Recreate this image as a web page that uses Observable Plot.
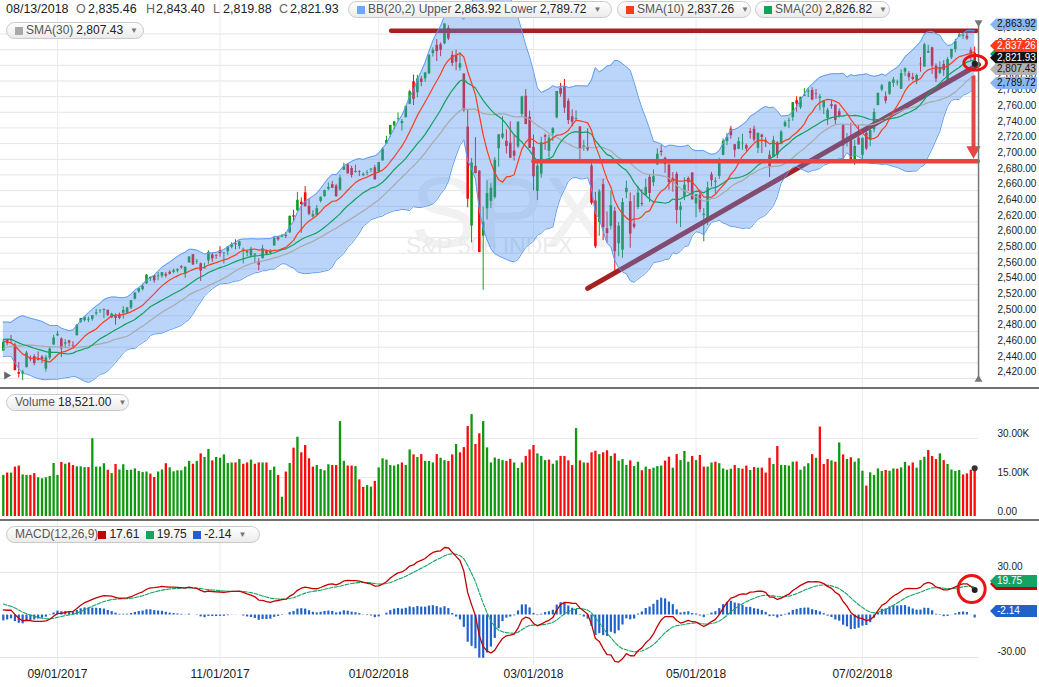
<!DOCTYPE html>
<html><head><meta charset="utf-8">
<script src="https://cdn.jsdelivr.net/npm/d3@7"></script>
<script src="https://cdn.jsdelivr.net/npm/@observablehq/plot@0.6"></script>
<style>
body{margin:0;background:#fff;}
#wrap{position:relative;width:1039px;height:687px;overflow:hidden;background:#fff;font-family:"Liberation Sans",Arial,sans-serif;}
.panel{position:absolute;left:0;}
.sep{position:absolute;left:0;width:1039px;height:2px;background:#707070;}
.hd{position:absolute;font-size:12.5px;line-height:14px;color:#222;white-space:nowrap;}
.lt{color:#666;}
.pill{position:absolute;height:15px;border:1px solid #c9c9c9;border-radius:9px;background:linear-gradient(#ffffff,#ebebeb);font-size:12px;line-height:15px;color:#555;white-space:nowrap;display:flex;align-items:center;padding-left:8px;box-sizing:content-box;}
.sq{display:inline-block;width:8px;height:8px;margin-right:3px;}
.num{color:#222;margin-left:3px;margin-right:3px;}
.dd{color:#777;font-size:8px;margin-left:4px;}
.tag{position:absolute;left:990px;width:47px;height:12px;font:10px "Liberation Sans",Arial,sans-serif;line-height:12px;padding-left:7px;box-sizing:border-box;clip-path:polygon(0 50%,6px 0,100% 0,100% 100%,6px 100%);}
</style></head>
<body><div id="wrap"></div>
<script>
// ---------- DATA ----------
const monthDays = [
 ["2017-08",[14,15,16,17,18,21,22,23,24,25,28,29,30,31]],
 ["2017-09",[1,5,6,7,8,11,12,13,14,15,18,19,20,21,22,25,26,27,28,29]],
 ["2017-10",[2,3,4,5,6,9,10,11,12,13,16,17,18,19,20,23,24,25,26,27,30,31]],
 ["2017-11",[1,2,3,6,7,8,9,10,13,14,15,16,17,20,21,22,24,27,28,29,30]],
 ["2017-12",[1,4,5,6,7,8,11,12,13,14,15,18,19,20,21,22,26,27,28,29]],
 ["2018-01",[2,3,4,5,8,9,10,11,12,16,17,18,19,22,23,24,25,26,29,30,31]],
 ["2018-02",[1,2,5,6,7,8,9,12,13,14,15,16,20,21,22,23,26,27,28]],
 ["2018-03",[1,2,5,6,7,8,9,12,13,14,15,16,19,20,21,22,23,26,27,28,29]],
 ["2018-04",[2,3,4,5,6,9,10,11,12,13,16,17,18,19,20,23,24,25,26,27,30]],
 ["2018-05",[1,2,3,4,7,8,9,10,11,14,15,16,17,18,21,22,23,24,25,29,30,31]],
 ["2018-06",[1,4,5,6,7,8,11,12,13,14,15,18,19,20,21,22,25,26,27,28,29]],
 ["2018-07",[2,3,5,6,9,10,11,12,13,16,17,18,19,20,23,24,25,26,27,30,31]],
 ["2018-08",[1,2,3,6,7,8,9,10,13]]
];
const opens = [
2454.96,2468.66,2468.63,2462.95,2427.64,2425.50,2433.75,2444.88,2447.91,2444.72,2447.35,2431.94,2446.06,2462.65,
2474.42,2470.35,2463.83,2468.06,2462.25,2474.52,2491.94,2493.89,2494.56,2495.67,2502.51,2506.29,2506.84,2507.16,2497.26,2499.39,2501.04,2503.30,2503.41,2509.96,
2521.20,2530.34,2533.48,2540.86,2547.44,2551.39,2549.99,2550.62,2552.88,2555.66,2555.57,2557.17,2562.87,2553.39,2567.56,2578.08,2568.66,2566.52,2560.08,2570.26,2577.75,2575.99,
2583.21,2579.46,2581.93,2587.47,2592.11,2588.71,2584.00,2580.18,2576.53,2577.75,2569.45,2572.95,2582.94,2579.49,2589.17,2600.31,2600.42,2602.66,2605.94,2627.82,2633.93,
2645.10,2657.19,2639.78,2626.24,2628.38,2646.21,2652.19,2661.73,2667.59,2665.87,2660.63,2685.92,2692.71,2688.18,2683.02,2684.22,2679.09,2682.10,2686.10,2689.15,
2683.73,2697.85,2719.31,2731.33,2742.67,2751.15,2745.55,2752.97,2770.18,2798.96,2784.99,2802.40,2802.60,2809.16,2835.05,2845.42,2846.24,2847.48,2867.23,2832.74,2832.41,
2816.45,2808.92,2741.06,2614.78,2690.95,2685.01,2601.78,2636.75,2646.27,2651.21,2713.46,2727.14,2722.99,2720.53,2710.42,2715.80,2757.37,2780.45,2753.78,
2715.22,2658.89,2681.06,2730.18,2710.18,2732.75,2752.91,2790.54,2792.31,2774.06,2754.27,2750.57,2741.38,2715.05,2714.99,2691.36,2646.71,2619.35,2667.57,2611.30,2614.41,
2633.45,2592.17,2584.04,2657.36,2645.82,2617.18,2638.41,2643.48,2653.83,2676.90,2670.10,2692.74,2710.11,2701.16,2692.56,2675.40,2680.80,2634.92,2651.65,2675.47,2682.51,
2642.96,2654.24,2628.08,2621.45,2680.34,2670.26,2678.12,2705.02,2722.70,2738.47,2718.59,2712.62,2719.71,2717.35,2735.39,2738.34,2713.98,2730.94,2723.60,2705.11,2702.43,2720.98,
2718.70,2741.67,2748.46,2753.25,2774.84,2765.84,2780.18,2785.60,2787.94,2783.21,2777.78,2765.79,2752.01,2769.73,2769.28,2760.79,2742.94,2722.12,2728.45,2698.69,2727.13,
2704.95,2733.27,2724.19,2737.68,2768.51,2788.56,2779.82,2783.14,2796.93,2797.36,2789.34,2811.35,2809.37,2804.55,2799.17,2820.68,2817.73,2835.49,2842.35,2819.00,2809.73,
2821.17,2800.48,2829.62,2840.29,2855.92,2856.79,2857.19,2838.90,2835.46];
const highs = [
2468.22,2468.90,2474.93,2465.02,2440.27,2430.58,2454.77,2448.91,2450.39,2453.96,2449.12,2449.19,2460.31,2475.01,
2480.38,2471.97,2469.64,2468.62,2467.11,2488.95,2496.77,2498.37,2498.43,2500.23,2508.32,2507.84,2508.85,2507.16,2503.47,2502.54,2503.51,2511.75,2510.81,2519.44,
2529.23,2535.13,2540.53,2552.51,2549.41,2551.82,2555.23,2555.24,2555.33,2557.65,2559.47,2559.71,2564.11,2562.36,2575.44,2578.29,2572.18,2567.40,2567.07,2582.98,2580.03,2578.29,
2588.40,2581.11,2588.42,2593.38,2597.02,2595.47,2586.50,2583.81,2587.66,2579.66,2572.84,2590.09,2583.96,2584.64,2601.19,2600.94,2604.21,2606.41,2627.69,2634.89,2657.74,
2650.62,2665.19,2648.72,2634.41,2640.99,2651.65,2660.33,2669.72,2671.88,2668.09,2679.63,2694.97,2694.44,2691.01,2692.64,2685.35,2682.74,2685.64,2687.66,2692.12,
2695.89,2714.37,2729.29,2743.45,2748.51,2759.14,2750.80,2767.56,2787.85,2807.54,2807.04,2805.83,2810.33,2833.03,2842.24,2852.97,2848.56,2872.87,2870.62,2837.75,2839.26,
2835.96,2808.92,2763.39,2701.04,2727.67,2685.27,2638.67,2672.61,2668.84,2702.10,2731.51,2754.42,2737.60,2747.75,2731.26,2747.76,2780.64,2789.15,2761.52,
2730.89,2696.25,2728.09,2732.08,2730.60,2740.45,2786.57,2796.98,2801.90,2777.11,2763.03,2761.85,2741.38,2724.22,2739.14,2695.68,2657.67,2661.36,2674.78,2632.65,2659.07,
2638.30,2619.14,2649.86,2672.08,2656.88,2653.55,2665.45,2661.04,2674.72,2680.26,2686.49,2713.34,2717.49,2702.84,2693.94,2682.86,2683.55,2645.30,2676.48,2677.35,2682.87,
2655.27,2660.87,2637.14,2670.93,2683.35,2676.34,2701.27,2726.11,2732.86,2742.10,2718.59,2727.76,2731.96,2719.50,2739.19,2742.24,2733.33,2731.97,2727.36,2710.67,2729.34,2722.50,
2736.93,2749.16,2752.61,2772.39,2779.90,2779.39,2790.21,2789.80,2791.47,2789.06,2782.81,2774.99,2765.05,2774.86,2769.28,2764.17,2742.94,2732.91,2746.09,2724.34,2743.26,
2727.26,2736.58,2737.83,2764.41,2784.65,2795.58,2785.91,2799.22,2804.53,2801.19,2814.19,2816.76,2812.05,2809.70,2808.61,2829.99,2848.03,2845.57,2843.17,2821.74,2824.46,
2825.83,2829.91,2840.38,2853.29,2863.43,2862.44,2862.48,2842.20,2843.40];
const lows = [
2454.96,2461.61,2463.86,2430.01,2420.69,2417.35,2433.67,2441.42,2436.19,2442.22,2439.03,2428.20,2443.77,2462.65,
2473.85,2446.55,2459.20,2460.29,2459.40,2474.52,2490.37,2492.14,2491.35,2493.16,2499.92,2503.19,2496.67,2499.00,2496.54,2488.03,2495.12,2495.91,2502.93,2507.99,
2520.40,2528.85,2531.80,2540.02,2543.79,2541.60,2544.86,2547.95,2548.31,2552.09,2553.90,2554.69,2559.67,2547.92,2567.56,2564.33,2565.58,2544.00,2559.80,2565.94,2568.25,2572.15,
2574.92,2566.17,2576.77,2585.66,2584.35,2585.02,2566.33,2575.57,2574.48,2566.56,2557.45,2572.95,2577.62,2578.24,2589.17,2595.23,2600.42,2598.87,2605.44,2620.32,2633.93,
2605.52,2639.03,2627.73,2624.75,2628.38,2644.10,2651.47,2659.78,2662.85,2652.01,2659.14,2685.92,2680.74,2676.11,2682.40,2678.13,2677.96,2678.91,2682.69,2673.61,
2682.36,2697.77,2719.07,2727.92,2737.60,2747.86,2736.06,2752.78,2769.64,2768.64,2778.38,2792.56,2798.08,2808.12,2830.59,2824.81,2830.94,2846.18,2851.48,2818.27,2813.04,
2812.70,2759.97,2638.17,2593.07,2681.33,2580.56,2532.69,2622.45,2637.08,2648.87,2689.82,2725.11,2706.76,2701.29,2697.77,2713.74,2753.78,2744.22,2713.54,
2659.65,2647.32,2675.75,2711.26,2701.74,2722.65,2751.54,2779.26,2758.68,2744.38,2741.47,2749.97,2694.59,2710.05,2709.79,2641.59,2585.89,2601.81,2596.12,2593.06,2609.72,
2553.80,2575.49,2573.61,2649.58,2586.27,2610.79,2635.78,2639.25,2653.83,2645.05,2665.16,2692.05,2703.63,2681.90,2660.61,2657.99,2617.32,2612.67,2647.16,2659.01,2648.04,
2625.41,2631.70,2594.62,2615.32,2664.70,2655.20,2674.14,2704.54,2717.45,2725.47,2701.91,2712.17,2711.36,2709.18,2725.70,2721.88,2707.38,2707.38,2714.99,2676.81,2702.43,2700.68,
2718.70,2740.54,2739.51,2748.46,2760.16,2763.59,2780.17,2778.78,2774.65,2776.52,2761.73,2757.12,2743.19,2763.91,2744.39,2752.68,2698.67,2715.60,2699.38,2691.99,2718.03,
2698.95,2711.16,2716.02,2733.52,2768.51,2786.24,2770.77,2781.53,2791.69,2793.39,2789.24,2805.89,2799.77,2800.01,2795.14,2811.12,2817.73,2835.26,2808.34,2798.11,2808.06,
2805.85,2796.34,2827.37,2835.98,2855.92,2853.09,2851.98,2825.81,2819.88];
const closes = [
2465.84,2464.61,2468.11,2430.01,2425.55,2428.37,2452.51,2444.04,2438.97,2443.05,2444.24,2446.30,2457.59,2471.65,
2476.55,2457.85,2465.54,2465.10,2461.43,2488.11,2496.48,2498.37,2495.62,2500.23,2503.87,2506.65,2508.24,2500.60,2502.22,2496.66,2496.84,2507.04,2510.06,2519.36,
2529.12,2534.58,2537.74,2552.07,2549.33,2544.73,2550.64,2555.24,2550.93,2553.17,2557.64,2559.36,2561.26,2562.10,2575.21,2564.98,2569.13,2557.15,2560.40,2581.07,2572.83,2575.26,
2579.36,2579.85,2587.84,2591.13,2590.64,2594.38,2584.62,2582.30,2584.84,2578.87,2564.62,2585.64,2578.85,2582.14,2599.03,2597.08,2602.42,2601.42,2627.04,2626.07,2647.58,
2642.22,2639.44,2629.57,2629.27,2636.98,2651.50,2659.99,2664.11,2662.85,2652.01,2675.81,2690.16,2681.47,2679.25,2684.57,2683.34,2680.50,2682.62,2687.54,2673.61,
2695.81,2713.06,2723.99,2743.15,2747.71,2751.29,2748.23,2767.56,2786.24,2776.42,2802.56,2798.03,2810.30,2832.97,2839.13,2837.54,2839.25,2872.87,2853.53,2822.43,2823.81,
2821.98,2762.13,2648.94,2695.14,2681.66,2581.00,2619.55,2656.00,2662.94,2698.63,2731.20,2732.22,2716.26,2701.33,2703.96,2747.30,2779.60,2744.28,2713.83,
2677.67,2691.25,2720.94,2728.12,2726.80,2738.97,2786.57,2783.02,2765.31,2749.48,2747.33,2752.01,2712.92,2716.94,2711.93,2643.69,2588.26,2658.55,2612.62,2605.00,2640.87,
2581.88,2614.45,2644.69,2662.84,2604.47,2613.16,2656.87,2642.19,2663.99,2656.30,2677.84,2706.39,2708.64,2693.13,2670.14,2670.29,2634.56,2639.40,2666.94,2669.91,2648.05,
2654.80,2635.67,2629.73,2663.42,2672.63,2671.92,2697.79,2723.07,2727.72,2730.13,2711.45,2722.46,2720.13,2712.97,2733.01,2724.44,2733.29,2727.76,2721.33,2689.86,2724.01,2705.27,
2734.62,2746.87,2748.80,2772.35,2770.37,2779.03,2782.00,2786.85,2775.63,2782.49,2779.66,2773.75,2762.59,2767.32,2749.76,2754.88,2717.07,2723.06,2699.63,2716.31,2718.37,
2726.71,2713.22,2736.61,2759.82,2784.17,2793.84,2774.02,2798.29,2801.31,2798.43,2809.55,2815.62,2804.49,2801.83,2806.98,2820.40,2846.07,2837.44,2818.82,2802.60,2816.29,
2813.36,2827.22,2840.35,2850.40,2858.45,2857.70,2853.58,2833.28,2821.93];
// volume, thousands
const volumes = [
15.8,16.7,16.7,19.0,19.4,16.0,15.8,15.8,16.5,14.9,14.5,14.9,15.4,20.4,
15.8,20.8,20.1,20.6,19.6,19.1,19.1,18.8,18.8,29.9,19.0,19.0,20.3,17.8,16.5,20.0,17.9,19.9,17.7,17.8,
18.3,17.3,16.9,17.1,16.3,15.0,17.1,17.9,20.3,18.7,17.2,17.6,17.6,19.0,21.2,20.1,21.2,24.1,22.7,25.8,21.4,22.7,
22.4,23.7,20.4,20.6,20.6,21.9,20.1,20.6,21.7,20.1,20.6,20.6,20.6,17.7,19.0,15.8,7.4,17.1,20.4,26.3,30.5,
24.5,27.3,22.2,19.0,19.6,18.1,17.6,19.9,19.6,19.6,36.5,21.2,19.4,19.4,19.2,14.1,11.2,11.9,11.3,13.5,
18.7,22.2,21.7,19.6,19.4,19.9,20.6,19.6,25.6,23.7,22.7,23.8,21.2,21.2,20.6,23.8,22.4,21.5,21.2,23.7,27.7,
24.5,26.5,34.6,39.2,27.7,31.8,36.5,26.4,20.6,22.5,22.0,21.5,21.2,22.0,20.6,18.5,20.6,23.1,25.6,
27.3,24.1,23.1,21.5,21.7,20.1,21.4,23.1,23.1,21.4,19.6,33.8,21.4,20.6,20.5,24.5,25.1,23.8,24.5,25.3,23.1,
24.1,21.3,21.9,19.6,21.4,19.2,20.9,17.6,19.0,18.1,18.6,19.2,19.4,21.3,22.8,18.6,23.8,21.5,25.0,20.9,23.1,
21.5,23.5,19.0,19.0,20.6,20.9,20.3,18.3,17.8,18.2,19.6,18.5,18.2,19.4,17.7,18.8,18.6,18.6,16.7,22.4,20.0,26.9,
19.6,19.6,19.4,20.9,21.0,17.8,19.1,20.3,23.8,22.4,34.4,20.0,21.9,21.4,20.9,28.3,23.7,21.9,22.6,20.9,22.2,
17.4,11.7,16.8,15.8,18.3,17.3,17.7,17.4,18.3,18.2,18.7,20.8,19.4,20.6,18.6,21.5,22.8,25.4,23.1,21.9,24.1,
21.5,20.0,17.9,17.3,17.7,16.0,16.4,17.8,18.521];
// closes before the window, so the moving averages and MACD are defined from the first day
const warmupCloses = [
2388.33,2391.17,2388.13,2389.52,2399.29,2399.38,2396.92,2399.63,2394.44,2390.90,2402.32,2400.67,2357.03,2365.72,2381.73,2394.02,2398.42,2404.39,2415.07,2415.82,2412.91,2411.80,
2430.06,2439.07,2436.10,2429.33,2433.14,2433.79,2431.77,2429.39,2440.35,2437.92,2432.46,2433.15,2453.46,2437.03,2435.61,2434.50,2438.30,2439.07,2419.38,2440.69,2419.70,2423.41,
2429.01,2432.54,2409.75,2425.18,2427.43,2425.53,2443.25,2447.83,2459.27,2459.14,2460.61,2473.83,2473.45,2472.54,2469.91,2477.13,2477.83,2475.42,2472.10,2470.30,
2476.35,2477.57,2472.16,2476.83,2480.91,2474.92,2474.02,2438.21,2441.32];

const priceTicks = [2420,2440,2460,2480,2500,2520,2540,2560,2580,2600,2620,2640,2660,2680,2700,2720,2740,2760,2780,2800,2820,2840,2860];
const volumeTicks = [0,15,30];
const macdTicks = [-30,30];
const monthTickLabels = ["09/01/2017","11/01/2017","01/02/2018","03/01/2018","05/01/2018","07/02/2018"];

const headerDate = "08/13/2018";
const headerOHLC = [["O","2,835.46"],["H","2,843.40"],["L","2,819.88"],["C","2,821.93"]];
const legendBB = ["2,863.92","2,789.72"];
const legendSMA = [["SMA(10)","2,837.26"],["SMA(20)","2,826.82"],["SMA(30)","2,807.43"]];
const legendVolume = "18,521.00";
const legendMACD = ["17.61","19.75","-2.14"];
const lastValues = {bbU:2863.92, bbL:2789.72, sma10:2837.26, sma20:2826.82, sma30:2807.43, close:2821.93, macd:17.61, signal:19.75, hist:-2.14};

// annotations in data units (trading-day index, price)
const resistanceLine = [[100.2,2864],[251.5,2864]];
const trendLine = [[151,2535],[252,2821]];
const supportLine = [[137,2697.5],[251.8,2697.5]];
const dropArrow = {i:250.7, from:2806, to:2701};

// ---------- BUILD ----------
const dates = monthDays.flatMap(([ym, days]) => days.map(d => `${ym.slice(5)}/${String(d).padStart(2,"0")}/${ym.slice(0,4)}`));
const n = Math.min(dates.length, opens.length, highs.length, lows.length, closes.length, volumes.length);
const all = warmupCloses.concat(closes.slice(0,n));
const off = warmupCloses.length;
function sma(k,j){let s=0;for(let q=j-k+1;q<=j;q++)s+=all[q];return s/k;}
function sdev(k,j,m){let s=0;for(let q=j-k+1;q<=j;q++)s+=(all[q]-m)**2;return Math.sqrt(s/k);}
function ema(arr,k){const a=2/(k+1);const out=[];let e=arr[0];arr.forEach((v,q)=>{e=q===0?v:v*a+e*(1-a);out.push(e);});return out;}
const e12=ema(all,12), e26=ema(all,26);
const macdAll=all.map((_,q)=>e12[q]-e26[q]);
const sigAll=ema(macdAll,9);
const G="#139a1e", R="#f20c0c", VG="#0e980e", VR="#fb0a0a";
const rows=[];
for(let i=0;i<n;i++){
  const j=i+off, m20=sma(20,j), s=sdev(20,j,m20);
  const prev = i ? closes[i-1] : warmupCloses[off-1];
  rows.push({i, date:dates[i], o:opens[i], h:highs[i], l:lows[i], c:closes[i], v:volumes[i],
    candle: closes[i]>=opens[i]?G:R, vcol: closes[i]>=prev?VG:VR,
    sma10:sma(10,j), sma20:m20, sma30:sma(30,j), bbU:m20+2*s, bbL:m20-2*s,
    macd:macdAll[j], sig:sigAll[j], hist:macdAll[j]-sigAll[j]});
}
const last = rows[n-1];
const monthIdx = monthTickLabels.map(l => ({label:l, i:dates.indexOf(l)})).filter(d=>d.i>=0);
const X0=2.8, DX=3.87;
const xOpt = {domain:[0,n-1], range:[X0, X0+DX*(n-1)], axis:null};
const axisEdge = n;
const fmt2 = d3.format(",.2f");
const FONT = "Liberation Sans, Arial, sans-serif";
const ellipse = {draw(ctx,size){const r=Math.sqrt(size/Math.PI), ry=r*0.64;for(let k=0;k<=48;k++){const a=k/48*2*Math.PI,px=r*Math.cos(a),py=ry*Math.sin(a);k?ctx.lineTo(px,py):ctx.moveTo(px,py);}ctx.closePath();}};

const wrap = document.getElementById("wrap");
function place(el, top){const d=document.createElement("div");d.className="panel";d.style.top=top+"px";d.appendChild(el);wrap.appendChild(d);}

// ---------- MAIN PRICE PANEL ----------
const main = Plot.plot({
  width:1039, height:387, margin:0,
  x:xOpt, y:{domain:[2420,2760], range:[378,111.78], axis:null},
  color:{type:"identity"},
  style:{background:"none", overflow:"visible", fontFamily:FONT},
  marks:[
    Plot.ruleY(priceTicks,{x1:-1, x2:axisEdge, stroke:"#e5e5e5"}),
    Plot.ruleX(monthIdx,{x:"i", stroke:"#ececec"}),
    Plot.text(["SPX"],{text:d=>d, frameAnchor:"top-left", dx:510, dy:175, fontSize:100, fill:"#f1f1f1", textAnchor:"middle"}),
    Plot.text(["S&P 500 INDEX"],{text:d=>d, frameAnchor:"top-left", dx:489, dy:237, fontSize:23, fill:"#ebebeb", textAnchor:"middle"}),
    Plot.ruleX(rows,{x:"i", y1:"l", y2:"h", stroke:"candle", strokeWidth:1}),
    Plot.ruleX(rows,{x:"i", y1:"o", y2:d=>Math.abs(d.c-d.o)<0.8?d.o+0.8:d.c, stroke:"candle", strokeWidth:2.6}),
    Plot.line(resistanceLine,{x:d=>d[0], y:d=>d[1], stroke:"#a42222", strokeWidth:4.5}),
    Plot.line(trendLine,{x:d=>d[0], y:d=>d[1], stroke:"#a42222", strokeWidth:5}),
    Plot.areaY(rows,{x:"i", y1:"bbL", y2:"bbU", fill:"#4a90f0", fillOpacity:0.38}),
    Plot.lineY(rows,{x:"i", y:"bbU", stroke:"#5d9cf0", strokeWidth:1}),
    Plot.lineY(rows,{x:"i", y:"bbL", stroke:"#5d9cf0", strokeWidth:1}),
    Plot.lineY(rows,{x:"i", y:"sma30", stroke:"#a9a9a9", strokeWidth:1.2}),
    Plot.lineY(rows,{x:"i", y:"sma20", stroke:"#12a05a", strokeWidth:1.2}),
    Plot.lineY(rows,{x:"i", y:"sma10", stroke:"#ff3b1c", strokeWidth:1.2}),
    Plot.line(supportLine,{x:d=>d[0], y:d=>d[1], stroke:"#e8443d", strokeWidth:4.5}),
    Plot.ruleX([dropArrow],{x:"i", y1:"from", y2:d=>d.to, stroke:"#e84545", strokeWidth:4, insetBottom:10}),
    Plot.dot([dropArrow],{x:"i", y:"to", symbol:"triangle2", rotate:180, r:6.8, fill:"#e84545", dy:-8}),
    Plot.ruleX([axisEdge],{x:d=>d, insetTop:22, insetBottom:6, stroke:"#777", strokeWidth:1.5}),
    Plot.dot([axisEdge],{x:d=>d, frameAnchor:"top", dy:22, symbol:"triangle2", rotate:180, r:3.8, fill:"#777"}),
    Plot.dot([axisEdge],{x:d=>d, frameAnchor:"bottom", dy:-8, symbol:"triangle2", r:3.8, fill:"#777"}),
    Plot.dot([0],{frameAnchor:"bottom-left", dx:6, dy:-12, symbol:"triangle2", rotate:90, r:3.8, fill:"#666"}),
    Plot.dot([last],{x:"i", y:"c", r:3, fill:"#222"}),
    Plot.dot([last],{x:"i", y:"c", symbol:ellipse, r:11.3, stroke:"#ee1111", strokeWidth:3, fill:"none", dx:0.5, dy:-1}),
    Plot.text(priceTicks,{y:d=>d, text:d=>fmt2(d), frameAnchor:"right", dx:-42, dy:-6.5, textAnchor:"start", fontSize:10, fill:"#222"})
  ]
});
place(main, 0);

// ---------- VOLUME PANEL ----------
const vol = Plot.plot({
  width:1039, height:130, margin:0,
  x:xOpt, y:{domain:[0,30], range:[127,49], axis:null},
  color:{type:"identity"},
  style:{background:"none", overflow:"visible", fontFamily:FONT},
  marks:[
    Plot.ruleY(volumeTicks.filter(d=>d>0),{x1:-1, x2:axisEdge, stroke:"#e8e8e8"}),
    Plot.ruleX(monthIdx,{x:"i", stroke:"#ececec"}),
    Plot.ruleX(rows,{x:"i", y1:0, y2:"v", stroke:"vcol", strokeWidth:2.3}),
    Plot.dot([last],{x:"i", y:"v", r:3, fill:"#333"}),
    Plot.text(volumeTicks,{y:d=>d, text:d=>d===0?"0.00":d.toFixed(2)+"K", frameAnchor:"right", dx:-42, dy:-4.5, textAnchor:"start", fontSize:10, fill:"#222"})
  ]
});
place(vol, 389);

// ---------- MACD PANEL ----------
const macdPlot = Plot.plot({
  width:1039, height:166, margin:0,
  x:xOpt, y:{domain:[-30,30], range:[136,51], axis:null},
  color:{type:"identity"},
  style:{background:"none", overflow:"visible", fontFamily:FONT},
  marks:[
    Plot.ruleY(macdTicks,{x1:-1, x2:axisEdge, stroke:"#e5e5e5"}),
    Plot.ruleX(monthIdx,{x:"i", stroke:"#ececec", insetBottom:22}),
    Plot.ruleX(rows,{x:"i", y1:0, y2:"hist", stroke:"#2162c9", strokeWidth:2.2}),
    Plot.lineY(rows,{x:"i", y:"sig", stroke:"#14a363", strokeWidth:1.1, strokeDasharray:"4,1.5"}),
    Plot.lineY(rows,{x:"i", y:"macd", stroke:"#c40000", strokeWidth:1.3}),
    Plot.dot([last],{x:"i", y:"macd", r:3, fill:"#222"}),
    Plot.dot([last],{x:"i", y:"macd", r:13.5, stroke:"#ee1111", strokeWidth:3, fill:"none", dx:-3, dy:-1}),
    Plot.text(macdTicks,{y:d=>d, text:d=>d.toFixed(2), frameAnchor:"right", dx:-42, dy:-6, textAnchor:"start", fontSize:10, fill:"#222"}),
    Plot.text(monthIdx,{x:"i", text:"label", frameAnchor:"bottom", dy:-10, fontSize:12, fill:"#222"})
  ]
});
place(macdPlot, 521);

// ---------- separators ----------
[387, 519].forEach(t=>{const s=document.createElement("div");s.className="sep";s.style.top=t+"px";wrap.appendChild(s);});

// ---------- header & legends ----------
function el(cls, html, style){const d=document.createElement("div");d.className=cls;d.innerHTML=html;Object.assign(d.style,style);wrap.appendChild(d);return d;}
el("hd", headerDate, {left:"6px", top:"2px"});
const hx=[[76,88],[146,156],[213,223],[279,290]];
headerOHLC.forEach(([k,v],q)=>{el("hd",`<span class="lt">${k}</span>`,{left:hx[q][0]+"px",top:"2px"});el("hd",v,{left:hx[q][1]+"px",top:"2px"});});
const sq=c=>`<span class="sq" style="background:${c}"></span>`;
const dd=`<span class="dd">&#9660;</span>`;
el("pill", `${sq("#6ea8f5")}BB(20,2) Upper<span class="num">${legendBB[0]}</span>Lower<span class="num">${legendBB[1]}</span>${dd}`, {left:"348px", top:"1px", width:"254px"});
el("pill", `${sq("#ff3b1c")}${legendSMA[0][0]}<span class="num">${legendSMA[0][1]}</span>${dd}`, {left:"617px", top:"1px", width:"124px"});
el("pill", `${sq("#12a05a")}${legendSMA[1][0]}<span class="num">${legendSMA[1][1]}</span>${dd}`, {left:"755px", top:"1px", width:"125px"});
el("pill", `${sq("#a9a9a9")}${legendSMA[2][0]}<span class="num">${legendSMA[2][1]}</span>${dd}`, {left:"6px", top:"22px", width:"128px"});
el("pill", `Volume<span class="num">${legendVolume}</span>${dd}`, {left:"6px", top:"394px", width:"113px"});
el("pill", `MACD(12,26,9) ${sq("#c40000")}<span class="num" style="margin-left:0">${legendMACD[0]}</span>&nbsp;${sq("#14a363")}<span class="num" style="margin-left:0">${legendMACD[1]}</span>&nbsp;${sq("#2162c9")}<span class="num" style="margin-left:0">${legendMACD[2]}</span>${dd}`, {left:"6px", top:"526px", width:"244px"});

// ---------- value tags on the right ----------
function tag(plot, top0, v, text, bg, fg, off){
  const y = top0 + plot.scale("y").apply(v) + off;
  const d=document.createElement("div");d.className="tag";d.textContent=text;
  Object.assign(d.style,{top:(y-6)+"px", background:bg, color:fg});wrap.appendChild(d);
}
tag(main,0,lastValues.sma20,fmt2(lastValues.sma20),"#12a05a","#fff",-5.5);
tag(main,0,lastValues.sma10,fmt2(lastValues.sma10),"#ff3b1c","#fff",-5.5);
tag(main,0,lastValues.close,fmt2(lastValues.close),"#111","#fff",-5.5);
tag(main,0,lastValues.sma30,fmt2(lastValues.sma30),"#b3b3b3","#111",-5.5);
tag(main,0,lastValues.bbL,fmt2(lastValues.bbL),"#86b6f6","#111",-5.5);
tag(main,0,lastValues.bbU,fmt2(lastValues.bbU),"#86b6f6","#111",-6);
tag(macdPlot,521,lastValues.macd,legendMACD[0],"#c40000","#fff",-5.5);
tag(macdPlot,521,lastValues.signal,legendMACD[1],"#14a363","#fff",-5.5);
tag(macdPlot,521,lastValues.hist,legendMACD[2],"#2162c9","#fff",-6.5);
</script></body></html>
